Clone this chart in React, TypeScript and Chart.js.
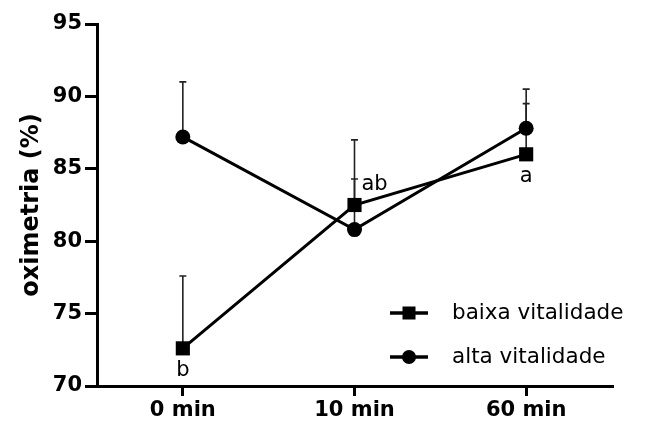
import React, { useEffect, useRef } from "react";
import { Chart, registerables } from "chart.js";

Chart.register(...registerables);

const categories = ["0 min", "10 min", "60 min"];
const baixaMean = [72.6, 82.5, 86.0];
const baixaSD = [5.0, 4.5, 3.5];
const altaMean = [87.2, 80.8, 87.8];
const altaSD = [3.8, 3.5, 2.7];
const baixaLetters = ["b", "ab", "a"];
const letterPlacement = ["below", "right", "below"];
const yMin = 70;
const yMax = 95;
const yStep = 5;

const FONT = "'DejaVu Sans', sans-serif";

const errorBarPlugin = {
  id: "errorBars",
  beforeDatasetsDraw(chart: any) {
    const ctx = chart.ctx;
    const yScale = chart.scales.y;
    ctx.save();
    ctx.strokeStyle = "#222";
    ctx.lineWidth = 1.6;
    chart.data.datasets.forEach((ds: any, di: number) => {
      const meta = chart.getDatasetMeta(di);
      const sd = ds.sd as number[];
      meta.data.forEach((pt: any, i: number) => {
        const x = pt.x;
        const y0 = yScale.getPixelForValue(ds.data[i]);
        const y1 = yScale.getPixelForValue(ds.data[i] + sd[i]);
        ctx.beginPath();
        ctx.moveTo(x, y0);
        ctx.lineTo(x, y1);
        ctx.moveTo(x - 3.5, y1);
        ctx.lineTo(x + 3.5, y1);
        ctx.stroke();
      });
    });
    ctx.restore();
  },
};

const lettersPlugin = {
  id: "letters",
  afterDatasetsDraw(chart: any) {
    const ctx = chart.ctx;
    const meta = chart.getDatasetMeta(0);
    ctx.save();
    ctx.fillStyle = "#000";
    ctx.font = `21px ${FONT}`;
    ctx.textBaseline = "middle";
    meta.data.forEach((pt: any, i: number) => {
      const txt = baixaLetters[i];
      if (letterPlacement[i] === "below") {
        ctx.textAlign = "center";
        ctx.fillText(txt, pt.x, pt.y + 22);
      } else {
        ctx.textAlign = "left";
        ctx.fillText(txt, pt.x + 7, pt.y - 20);
      }
    });
    ctx.restore();
  },
};

const legendPlugin = {
  id: "customLegend",
  afterDraw(chart: any) {
    const ctx = chart.ctx;
    const area = chart.chartArea;
    const x0 = area.right - 222;
    const rows = [area.bottom - 73, area.bottom - 29];
    ctx.save();
    chart.data.datasets.forEach((ds: any, i: number) => {
      const y = rows[i];
      ctx.strokeStyle = "#000";
      ctx.lineWidth = 3.5;
      ctx.beginPath();
      ctx.moveTo(x0, y);
      ctx.lineTo(x0 + 38, y);
      ctx.stroke();
      ctx.fillStyle = "#000";
      const cx = x0 + 19;
      if (ds.pointStyle === "rect") {
        ctx.fillRect(cx - 6.5, y - 6.5, 13, 13);
      } else {
        ctx.beginPath();
        ctx.arc(cx, y, 7, 0, Math.PI * 2);
        ctx.fill();
      }
      ctx.font = `21.5px ${FONT}`;
      ctx.textAlign = "left";
      ctx.textBaseline = "middle";
      ctx.fillText(ds.label, x0 + 62, y);
    });
    ctx.restore();
  },
};

export default function App() {
  const ref = useRef<HTMLCanvasElement | null>(null);
  useEffect(() => {
    if (!ref.current) return;
    const chart = new Chart(ref.current, {
      type: "line",
      data: {
        labels: categories,
        datasets: [
          {
            label: "baixa vitalidade",
            data: baixaMean,
            sd: baixaSD,
            borderColor: "#000",
            backgroundColor: "#000",
            borderWidth: 3,
            pointStyle: "rect",
            pointRadius: 10,
            pointBorderWidth: 0,
            tension: 0,
          } as any,
          {
            label: "alta vitalidade",
            data: altaMean,
            sd: altaSD,
            borderColor: "#000",
            backgroundColor: "#000",
            borderWidth: 3,
            pointStyle: "circle",
            pointRadius: 7.5,
            pointBorderWidth: 0,
            tension: 0,
          } as any,
        ],
      },
      options: {
        responsive: false,
        animation: false,
        layout: { padding: { top: 24, right: 39, left: 0, bottom: 0 } },
        plugins: {
          legend: { display: false },
          tooltip: { enabled: false },
        },
        scales: {
          x: {
            type: "category",
            offset: true,
            grid: {
              offset: false,
              drawOnChartArea: false,
              drawTicks: true,
              tickLength: 10,
              color: "#000",
              lineWidth: 3,
            },
            border: { color: "#000", width: 3 },
            ticks: {
              color: "#000",
              padding: 2,
              font: { family: FONT, size: 21, weight: "bold" },
            },
            afterFit: (s: any) => {
              s.height = 41;
            },
          },
          y: {
            min: yMin,
            max: yMax,
            grid: {
              drawOnChartArea: false,
              drawTicks: true,
              tickLength: 12,
              color: "#000",
              lineWidth: 3,
            },
            border: { color: "#000", width: 3 },
            ticks: {
              stepSize: yStep,
              color: "#000",
              padding: 3,
              font: { family: FONT, size: 21, weight: "bold" },
            },
            title: {
              display: true,
              text: "oximetria (%)",
              color: "#000",
              font: { family: FONT, size: 24, weight: "bold" },
              padding: { top: 17, bottom: 0 },
            },
            afterFit: (s: any) => {
              s.width = 97;
            },
          },
        },
      } as any,
      plugins: [errorBarPlugin, lettersPlugin, legendPlugin],
    });
    return () => chart.destroy();
  }, []);
  return (
    <div style={{ position: "fixed", left: 0, top: 0, width: 651, height: 427, background: "#fff" }}>
      <canvas ref={ref} width={651} height={427} style={{ display: "block" }} />
    </div>
  );
}
